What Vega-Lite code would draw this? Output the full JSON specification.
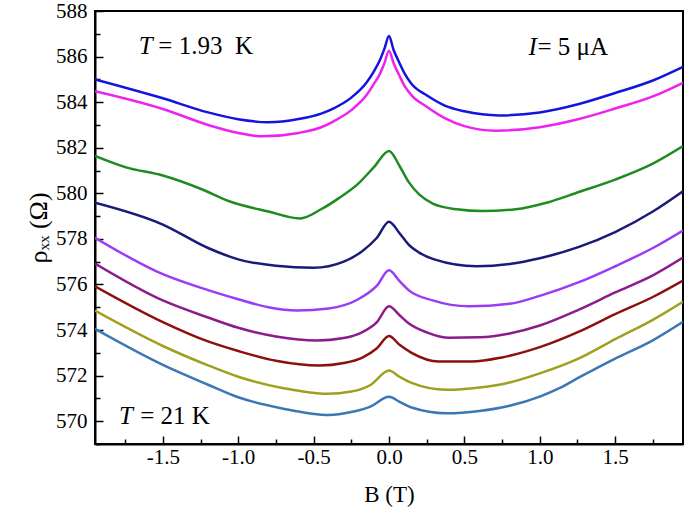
{
  "$schema": "https://vega.github.io/schema/vega-lite/v6.json",
  "width": 588,
  "height": 433,
  "autosize": {"type": "none"},
  "padding": {"left": 95, "top": 11, "right": 2, "bottom": 64},
  "background": "white",
  "config": {
    "view": {"stroke": "black", "strokeWidth": 2},
    "font": "Liberation Serif",
    "axis": {"labelFont": "Liberation Serif", "titleFont": "Liberation Serif", "labelColor": "black", "titleColor": "black", "domainColor": "black", "domainWidth": 2, "tickColor": "black", "tickWidth": 1.5, "grid": false, "labelFontSize": 21, "titleFontSize": 23, "titleFontWeight": "normal", "labelOverlap": false}
  },
  "datasets": {
    "curves": [
      {"s": "c1", "B": -1.95, "r": 585.0}, {"s": "c1", "B": -1.5, "r": 584.17}, {"s": "c1", "B": -1.2, "r": 583.55}, {"s": "c1", "B": -1.0, "r": 583.25}, {"s": "c1", "B": -0.8, "r": 583.12}, {"s": "c1", "B": -0.6, "r": 583.26}, {"s": "c1", "B": -0.45, "r": 583.5}, {"s": "c1", "B": -0.37, "r": 583.72}, {"s": "c1", "B": -0.25, "r": 584.2}, {"s": "c1", "B": -0.15, "r": 584.85}, {"s": "c1", "B": -0.1, "r": 585.35}, {"s": "c1", "B": -0.06, "r": 585.85}, {"s": "c1", "B": -0.03, "r": 586.35}, {"s": "c1", "B": 0.0, "r": 586.9}, {"s": "c1", "B": 0.03, "r": 586.3}, {"s": "c1", "B": 0.06, "r": 585.85}, {"s": "c1", "B": 0.1, "r": 585.3}, {"s": "c1", "B": 0.15, "r": 584.8}, {"s": "c1", "B": 0.25, "r": 584.3}, {"s": "c1", "B": 0.37, "r": 583.85}, {"s": "c1", "B": 0.5, "r": 583.6}, {"s": "c1", "B": 0.73, "r": 583.42}, {"s": "c1", "B": 1.0, "r": 583.55}, {"s": "c1", "B": 1.26, "r": 583.92}, {"s": "c1", "B": 1.5, "r": 584.4}, {"s": "c1", "B": 1.75, "r": 584.95}, {"s": "c1", "B": 1.95, "r": 585.55},
      {"s": "c2", "B": -1.95, "r": 584.48}, {"s": "c2", "B": -1.5, "r": 583.7}, {"s": "c2", "B": -1.2, "r": 583.0}, {"s": "c2", "B": -1.0, "r": 582.65}, {"s": "c2", "B": -0.84, "r": 582.5}, {"s": "c2", "B": -0.6, "r": 582.65}, {"s": "c2", "B": -0.45, "r": 582.9}, {"s": "c2", "B": -0.37, "r": 583.15}, {"s": "c2", "B": -0.25, "r": 583.65}, {"s": "c2", "B": -0.15, "r": 584.3}, {"s": "c2", "B": -0.1, "r": 584.8}, {"s": "c2", "B": -0.06, "r": 585.25}, {"s": "c2", "B": -0.03, "r": 585.72}, {"s": "c2", "B": 0.0, "r": 586.26}, {"s": "c2", "B": 0.03, "r": 585.72}, {"s": "c2", "B": 0.07, "r": 585.15}, {"s": "c2", "B": 0.1, "r": 584.75}, {"s": "c2", "B": 0.15, "r": 584.3}, {"s": "c2", "B": 0.25, "r": 583.8}, {"s": "c2", "B": 0.37, "r": 583.3}, {"s": "c2", "B": 0.5, "r": 582.95}, {"s": "c2", "B": 0.71, "r": 582.75}, {"s": "c2", "B": 1.0, "r": 582.9}, {"s": "c2", "B": 1.26, "r": 583.26}, {"s": "c2", "B": 1.5, "r": 583.72}, {"s": "c2", "B": 1.75, "r": 584.25}, {"s": "c2", "B": 1.95, "r": 584.85},
      {"s": "c3", "B": -1.95, "r": 581.64}, {"s": "c3", "B": -1.75, "r": 581.15}, {"s": "c3", "B": -1.5, "r": 580.78}, {"s": "c3", "B": -1.25, "r": 580.2}, {"s": "c3", "B": -1.06, "r": 579.65}, {"s": "c3", "B": -0.8, "r": 579.2}, {"s": "c3", "B": -0.59, "r": 578.9}, {"s": "c3", "B": -0.45, "r": 579.3}, {"s": "c3", "B": -0.33, "r": 579.8}, {"s": "c3", "B": -0.2, "r": 580.45}, {"s": "c3", "B": -0.1, "r": 581.15}, {"s": "c3", "B": 0.0, "r": 581.86}, {"s": "c3", "B": 0.07, "r": 581.2}, {"s": "c3", "B": 0.13, "r": 580.5}, {"s": "c3", "B": 0.2, "r": 579.95}, {"s": "c3", "B": 0.29, "r": 579.55}, {"s": "c3", "B": 0.45, "r": 579.3}, {"s": "c3", "B": 0.62, "r": 579.22}, {"s": "c3", "B": 0.84, "r": 579.3}, {"s": "c3", "B": 1.05, "r": 579.6}, {"s": "c3", "B": 1.26, "r": 580.06}, {"s": "c3", "B": 1.5, "r": 580.6}, {"s": "c3", "B": 1.75, "r": 581.3}, {"s": "c3", "B": 1.95, "r": 582.07},
      {"s": "c4", "B": -1.95, "r": 579.59}, {"s": "c4", "B": -1.5, "r": 578.63}, {"s": "c4", "B": -1.2, "r": 577.6}, {"s": "c4", "B": -1.0, "r": 577.1}, {"s": "c4", "B": -0.75, "r": 576.82}, {"s": "c4", "B": -0.5, "r": 576.73}, {"s": "c4", "B": -0.3, "r": 577.0}, {"s": "c4", "B": -0.18, "r": 577.45}, {"s": "c4", "B": -0.08, "r": 578.05}, {"s": "c4", "B": 0.0, "r": 578.75}, {"s": "c4", "B": 0.07, "r": 578.25}, {"s": "c4", "B": 0.13, "r": 577.75}, {"s": "c4", "B": 0.2, "r": 577.4}, {"s": "c4", "B": 0.3, "r": 577.1}, {"s": "c4", "B": 0.58, "r": 576.8}, {"s": "c4", "B": 0.8, "r": 576.9}, {"s": "c4", "B": 1.0, "r": 577.15}, {"s": "c4", "B": 1.26, "r": 577.65}, {"s": "c4", "B": 1.5, "r": 578.3}, {"s": "c4", "B": 1.75, "r": 579.2}, {"s": "c4", "B": 1.95, "r": 580.09},
      {"s": "c5", "B": -1.95, "r": 578.05}, {"s": "c5", "B": -1.5, "r": 576.45}, {"s": "c5", "B": -1.2, "r": 575.75}, {"s": "c5", "B": -1.0, "r": 575.35}, {"s": "c5", "B": -0.8, "r": 575.0}, {"s": "c5", "B": -0.61, "r": 574.86}, {"s": "c5", "B": -0.4, "r": 574.95}, {"s": "c5", "B": -0.21, "r": 575.33}, {"s": "c5", "B": -0.08, "r": 575.95}, {"s": "c5", "B": 0.0, "r": 576.62}, {"s": "c5", "B": 0.07, "r": 576.15}, {"s": "c5", "B": 0.13, "r": 575.75}, {"s": "c5", "B": 0.29, "r": 575.3}, {"s": "c5", "B": 0.53, "r": 575.04}, {"s": "c5", "B": 0.8, "r": 575.15}, {"s": "c5", "B": 1.0, "r": 575.5}, {"s": "c5", "B": 1.26, "r": 576.1}, {"s": "c5", "B": 1.5, "r": 576.8}, {"s": "c5", "B": 1.75, "r": 577.6}, {"s": "c5", "B": 1.95, "r": 578.37},
      {"s": "c6", "B": -1.95, "r": 576.92}, {"s": "c6", "B": -1.5, "r": 575.3}, {"s": "c6", "B": -1.2, "r": 574.55}, {"s": "c6", "B": -1.0, "r": 574.1}, {"s": "c6", "B": -0.75, "r": 573.72}, {"s": "c6", "B": -0.48, "r": 573.54}, {"s": "c6", "B": -0.3, "r": 573.65}, {"s": "c6", "B": -0.18, "r": 573.9}, {"s": "c6", "B": -0.08, "r": 574.35}, {"s": "c6", "B": 0.0, "r": 575.04}, {"s": "c6", "B": 0.07, "r": 574.65}, {"s": "c6", "B": 0.13, "r": 574.3}, {"s": "c6", "B": 0.25, "r": 573.9}, {"s": "c6", "B": 0.4, "r": 573.66}, {"s": "c6", "B": 0.6, "r": 573.68}, {"s": "c6", "B": 0.8, "r": 573.85}, {"s": "c6", "B": 1.0, "r": 574.2}, {"s": "c6", "B": 1.26, "r": 574.9}, {"s": "c6", "B": 1.5, "r": 575.65}, {"s": "c6", "B": 1.75, "r": 576.4}, {"s": "c6", "B": 1.95, "r": 577.18},
      {"s": "c7", "B": -1.95, "r": 575.92}, {"s": "c7", "B": -1.5, "r": 574.35}, {"s": "c7", "B": -1.2, "r": 573.5}, {"s": "c7", "B": -1.0, "r": 573.08}, {"s": "c7", "B": -0.75, "r": 572.65}, {"s": "c7", "B": -0.46, "r": 572.44}, {"s": "c7", "B": -0.3, "r": 572.55}, {"s": "c7", "B": -0.18, "r": 572.78}, {"s": "c7", "B": -0.08, "r": 573.2}, {"s": "c7", "B": 0.0, "r": 573.74}, {"s": "c7", "B": 0.07, "r": 573.35}, {"s": "c7", "B": 0.15, "r": 573.0}, {"s": "c7", "B": 0.33, "r": 572.62}, {"s": "c7", "B": 0.55, "r": 572.62}, {"s": "c7", "B": 0.75, "r": 572.8}, {"s": "c7", "B": 1.0, "r": 573.25}, {"s": "c7", "B": 1.26, "r": 573.93}, {"s": "c7", "B": 1.5, "r": 574.7}, {"s": "c7", "B": 1.75, "r": 575.45}, {"s": "c7", "B": 1.95, "r": 576.17},
      {"s": "c8", "B": -1.95, "r": 574.85}, {"s": "c8", "B": -1.5, "r": 573.3}, {"s": "c8", "B": -1.2, "r": 572.45}, {"s": "c8", "B": -1.0, "r": 571.95}, {"s": "c8", "B": -0.7, "r": 571.45}, {"s": "c8", "B": -0.41, "r": 571.2}, {"s": "c8", "B": -0.25, "r": 571.3}, {"s": "c8", "B": -0.12, "r": 571.6}, {"s": "c8", "B": 0.0, "r": 572.22}, {"s": "c8", "B": 0.07, "r": 571.95}, {"s": "c8", "B": 0.15, "r": 571.68}, {"s": "c8", "B": 0.38, "r": 571.38}, {"s": "c8", "B": 0.6, "r": 571.48}, {"s": "c8", "B": 0.8, "r": 571.7}, {"s": "c8", "B": 1.0, "r": 572.1}, {"s": "c8", "B": 1.26, "r": 572.76}, {"s": "c8", "B": 1.5, "r": 573.6}, {"s": "c8", "B": 1.75, "r": 574.45}, {"s": "c8", "B": 1.95, "r": 575.24},
      {"s": "c9", "B": -1.95, "r": 574.05}, {"s": "c9", "B": -1.5, "r": 572.47}, {"s": "c9", "B": -1.2, "r": 571.6}, {"s": "c9", "B": -1.0, "r": 571.05}, {"s": "c9", "B": -0.7, "r": 570.55}, {"s": "c9", "B": -0.4, "r": 570.27}, {"s": "c9", "B": -0.25, "r": 570.4}, {"s": "c9", "B": -0.12, "r": 570.65}, {"s": "c9", "B": 0.0, "r": 571.07}, {"s": "c9", "B": 0.07, "r": 570.85}, {"s": "c9", "B": 0.15, "r": 570.6}, {"s": "c9", "B": 0.38, "r": 570.35}, {"s": "c9", "B": 0.6, "r": 570.45}, {"s": "c9", "B": 0.8, "r": 570.68}, {"s": "c9", "B": 1.0, "r": 571.08}, {"s": "c9", "B": 1.13, "r": 571.45}, {"s": "c9", "B": 1.26, "r": 571.92}, {"s": "c9", "B": 1.5, "r": 572.75}, {"s": "c9", "B": 1.75, "r": 573.55}, {"s": "c9", "B": 1.95, "r": 574.36}
    ],
    "italicText": [
      {"B": -1.66, "r": 586.47, "t": "T"},
      {"B": 0.925, "r": 586.43, "t": "I"},
      {"B": -1.79, "r": 570.22, "t": "T"}
    ],
    "plainText": [
      {"B": -1.53, "r": 586.47, "t": "= 1.93\u00a0\u00a0K"},
      {"B": 0.985, "r": 586.43, "t": "= 5 μA"},
      {"B": -1.65, "r": 570.22, "t": "= 21 K"}
    ]
  },
  "resolve": {"axis": {"x": "independent", "y": "independent"}},
  "layer": [
    {
      "data": {"name": "curves"},
      "mark": {"type": "line", "strokeWidth": 2.5, "interpolate": "monotone", "clip": true},
      "encoding": {
        "x": {"field": "B", "type": "quantitative",
          "scale": {"domain": [-1.95, 1.95], "nice": false, "zero": false},
          "axis": {"orient": "bottom", "title": "B (T)", "values": [-1.5, -1.0, -0.5, 0, 0.5, 1.0, 1.5],
            "labelExpr": "replace(format(datum.value, '.1f'), '\u2212', '-')",
            "tickSize": -8, "labelPadding": 10, "titlePadding": 16}},
        "y": {"field": "r", "type": "quantitative",
          "scale": {"domain": [569, 588], "nice": false, "zero": false},
          "axis": {"orient": "left", "title": "ρₓₓ (Ω)", "values": [570, 572, 574, 576, 578, 580, 582, 584, 586, 588],
            "tickSize": -8, "labelAlign": "right", "labelPadding": 16, "titlePadding": 4, "titleFontSize": 26}},
        "color": {"field": "s", "type": "nominal", "legend": null,
          "scale": {"domain": ["c1", "c2", "c3", "c4", "c5", "c6", "c7", "c8", "c9"],
            "range": ["#1414e0", "#f020f0", "#1e8c1e", "#1a1a7a", "#9a3cf5", "#8c1c8c", "#8c1010", "#a0a020", "#3a78b4"]}}
      }
    },
    {
      "data": {"name": "italicText"},
      "mark": {"type": "text", "font": "Liberation Serif", "fontStyle": "italic", "fontSize": 25, "align": "left", "baseline": "middle", "color": "black"},
      "encoding": {
        "x": {"field": "B", "type": "quantitative",
          "axis": {"orient": "bottom", "values": [-1.75, -1.25, -0.75, -0.25, 0.25, 0.75, 1.25, 1.75], "labels": false, "domain": false, "title": null, "tickSize": -5}},
        "y": {"field": "r", "type": "quantitative",
          "axis": {"orient": "left", "values": [569, 571, 573, 575, 577, 579, 581, 583, 585, 587], "labels": false, "domain": false, "title": null, "tickSize": -5}},
        "text": {"field": "t"}}
    },
    {
      "data": {"name": "plainText"},
      "mark": {"type": "text", "font": "Liberation Serif", "fontSize": 25, "align": "left", "baseline": "middle", "color": "black"},
      "encoding": {
        "x": {"field": "B", "type": "quantitative", "axis": null},
        "y": {"field": "r", "type": "quantitative", "axis": null},
        "text": {"field": "t"}}
    }
  ]
}
